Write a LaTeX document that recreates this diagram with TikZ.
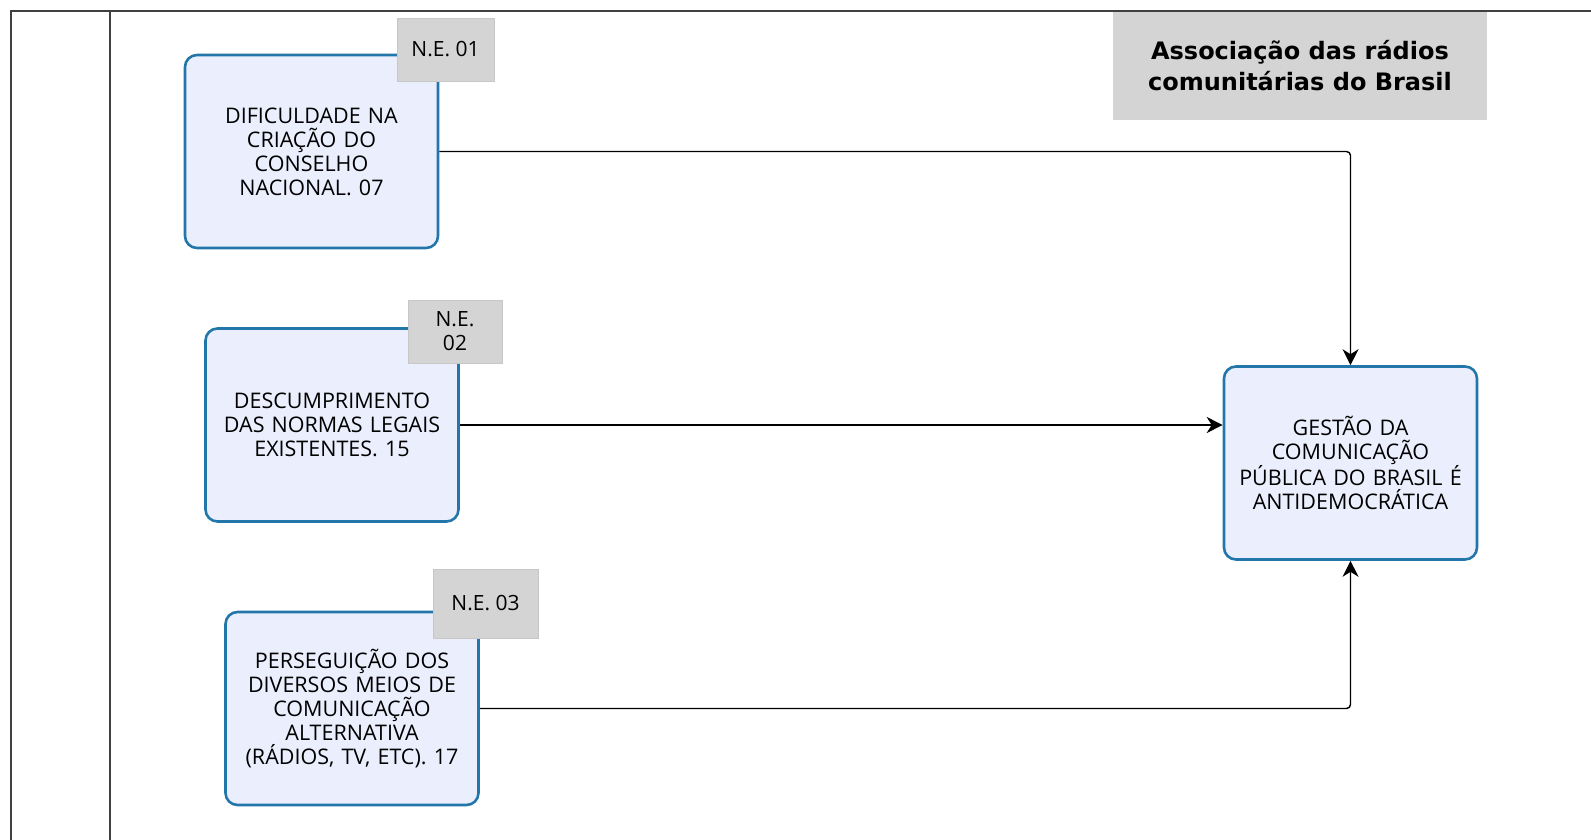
\documentclass[tikz,border=0pt]{standalone}
\usepackage{fontspec}
\setmainfont{Open Sans}
\newfontfamily\titlefont{DejaVu Sans}
\usetikzlibrary{arrows.meta}
\definecolor{boxfill}{HTML}{EBEEFC}
\definecolor{boxline}{HTML}{2276AA}
\definecolor{taggray}{HTML}{D4D4D4}
\definecolor{framegray}{HTML}{404040}
\tikzset{
  cause/.style={draw=boxline, line width=2.6pt, fill=boxfill, rounded corners=12pt,
    minimum width=253pt, minimum height=193pt, align=center, inner sep=3pt,
    font=\fontsize{21.5}{24}\selectfont, text width=247pt},
  tag/.style={fill=taggray, draw=black!22, line width=0.8pt, align=center,
    font=\fontsize{21}{24}\selectfont},
  link/.style={draw=black, line width=1.4pt, rounded corners=4pt,
    -{Stealth[length=16pt,width=16pt,inset=5pt]}}
}
\begin{document}
\begin{tikzpicture}[x=1pt,y=-1pt]
\useasboundingbox (0,0) rectangle (1591,840);
% frame
\draw[framegray, line width=1.5pt] (1591,11)--(11,11)--(11,840) (110,11)--(110,840);
% title
\node[fill=taggray, minimum width=374pt, minimum height=108pt, align=center,
  font=\fontsize{24}{31}\selectfont\titlefont\bfseries] (assoc) at (1300,66)
  {Associação das rádios\\comunitárias do Brasil};
% causes
\node[cause] (c1) at (311.5,151.5) {DIFICULDADE NA\\CRIAÇÃO DO\\CONSELHO\\NACIONAL. 07};
\node[cause] (c2) at (332,425) {DESCUMPRIMENTO\\DAS NORMAS LEGAIS\\EXISTENTES. 15};
\node[cause] (c3) at (352,708.5) {PERSEGUIÇÃO DOS\\DIVERSOS MEIOS DE\\COMUNICAÇÃO\\ALTERNATIVA\\(RÁDIOS, TV, ETC). 17};
\node[cause] (goal) at (1350.5,463) {GESTÃO DA\\COMUNICAÇÃO\\PÚBLICA DO BRASIL É\\ANTIDEMOCRÁTICA};
% tags
\node[tag, minimum width=97pt, minimum height=63pt] (ne1) at (445.5,49.5) {N.E. 01};
\node[tag, minimum width=94pt, minimum height=63pt] (ne2) at (455,331.5) {N.E.\\02};
\node[tag, minimum width=105pt, minimum height=69pt] (ne3) at (485.5,603.5) {N.E. 03};
% links
\draw[link] (c1.east) -| (goal.north);
\draw[link] (c2.east) -- (c2.east -| goal.west);
\draw[link] (c3.east) -| (goal.south);
\end{tikzpicture}
\end{document}
